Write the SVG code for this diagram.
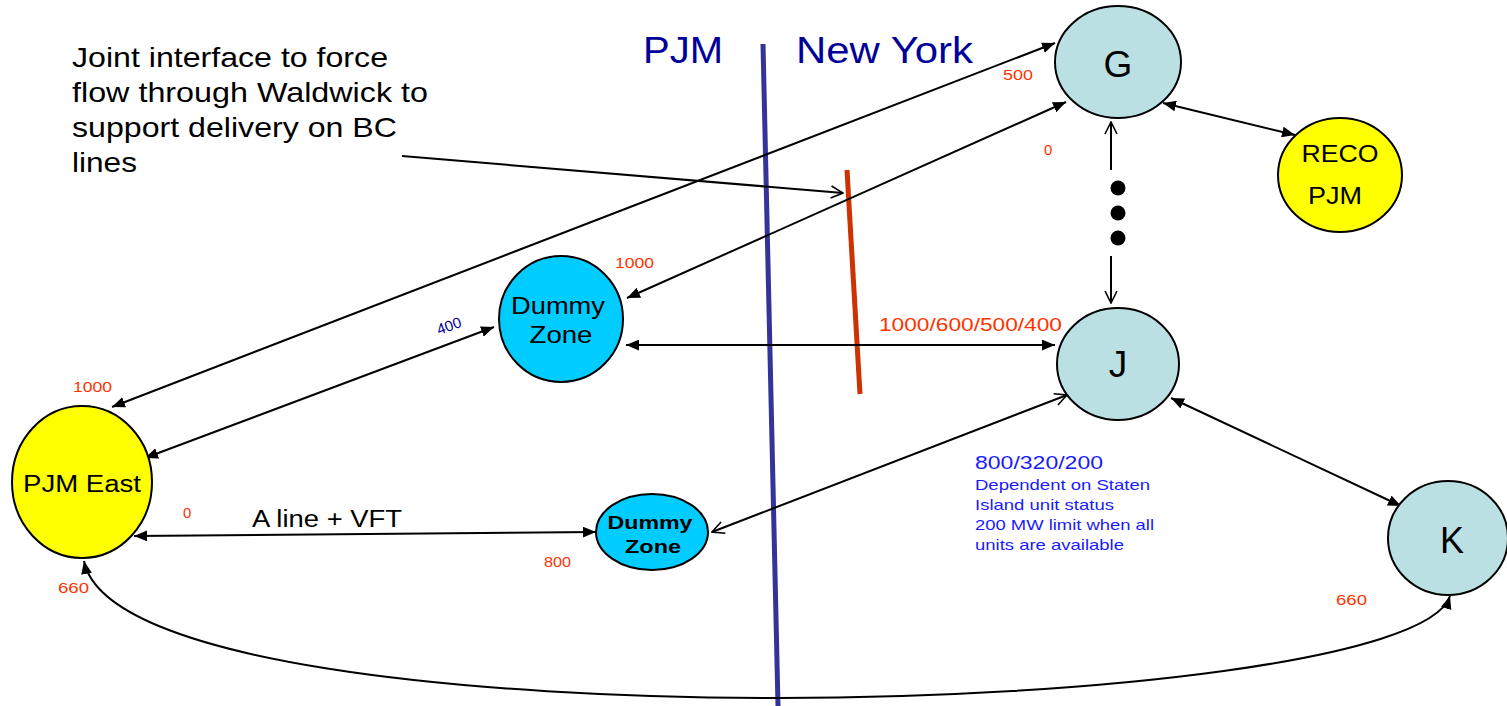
<svg xmlns="http://www.w3.org/2000/svg" width="1507" height="706" viewBox="0 0 1507 706">
<defs>
<style>
text{font-family:"Liberation Sans",Arial,sans-serif;}
.node{stroke:#000;stroke-width:2;}
.ny{fill:#BBE0E3;}
.yel{fill:#FFFF00;}
.dz{fill:#00CCFF;}
.conn{stroke:#000;stroke-width:2;fill:none;}
.lbl{fill:#FF3300;font-size:15px;}
.blue{fill:#1A1AFF;}
.nt{fill:#000;text-anchor:middle;}
</style>
<marker id="af" viewBox="0 0 12 10" refX="12" refY="5" markerWidth="13" markerHeight="11" markerUnits="userSpaceOnUse" orient="auto-start-reverse">
<path d="M0,0 L12,5 L0,10 z" fill="#000"/>
</marker>
<marker id="ao" viewBox="0 0 14 14" refX="13" refY="7" markerWidth="14" markerHeight="14" markerUnits="userSpaceOnUse" orient="auto-start-reverse">
<path d="M1,1 L13,7 L1,13" fill="none" stroke="#000" stroke-width="1.6"/>
</marker>
</defs>
<rect width="1507" height="706" fill="#fff"/>

<g id="divider">
<line x1="763" y1="44" x2="778" y2="706" stroke="#333399" stroke-width="5"/>
<text x="643" y="63" font-size="36" fill="#000099" textLength="80" lengthAdjust="spacingAndGlyphs">PJM</text>
<text x="796" y="63" font-size="36" fill="#000099" textLength="177" lengthAdjust="spacingAndGlyphs">New York</text>
</g>

<g id="joint-interface">
<line x1="847" y1="170" x2="860" y2="394" stroke="#CC3300" stroke-width="5"/>
</g>

<g id="note">
<text x="72" y="67" font-size="28" textLength="316" lengthAdjust="spacingAndGlyphs">Joint interface to force</text>
<text x="72" y="102" font-size="28" textLength="356" lengthAdjust="spacingAndGlyphs">flow through Waldwick to</text>
<text x="72" y="137" font-size="28" textLength="325" lengthAdjust="spacingAndGlyphs">support delivery on BC</text>
<text x="72" y="172" font-size="28" textLength="65" lengthAdjust="spacingAndGlyphs">lines</text>
</g>

<g id="connectors">
<line class="conn" x1="402" y1="156" x2="843" y2="193" marker-end="url(#ao)"/>
<line class="conn" x1="112" y1="407" x2="1055" y2="43" marker-start="url(#af)" marker-end="url(#af)"/>
<line class="conn" x1="145" y1="458" x2="494" y2="327" marker-start="url(#af)" marker-end="url(#af)"/>
<line class="conn" x1="1066" y1="102" x2="627" y2="298" marker-start="url(#af)" marker-end="url(#af)"/>
<line class="conn" x1="626" y1="345" x2="1055" y2="345" marker-start="url(#af)" marker-end="url(#af)"/>
<line class="conn" x1="1163" y1="103" x2="1295" y2="135" marker-start="url(#af)" marker-end="url(#af)"/>
<line class="conn" x1="1111" y1="170" x2="1111" y2="122" marker-end="url(#ao)"/>
<line class="conn" x1="1111" y1="256" x2="1111" y2="303" marker-end="url(#ao)"/>
<line class="conn" x1="1171" y1="398" x2="1401" y2="506" marker-start="url(#af)" marker-end="url(#af)"/>
<line class="conn" x1="712" y1="532" x2="1067" y2="395" marker-start="url(#ao)" marker-end="url(#ao)"/>
<line class="conn" x1="134" y1="536" x2="596" y2="532" marker-start="url(#af)" marker-end="url(#af)"/>
<path class="conn" d="M84,561 C105,665 480,698 779,698 C1090,698 1430,660 1450,596" marker-start="url(#af)" marker-end="url(#af)"/>
<circle cx="1118" cy="188" r="7.5" fill="#000"/>
<circle cx="1118" cy="213" r="7.5" fill="#000"/>
<circle cx="1118" cy="238" r="7.5" fill="#000"/>
</g>

<g id="labels">
<text class="lbl" x="1003" y="80" textLength="30" lengthAdjust="spacingAndGlyphs">500</text>
<text class="lbl" x="1044" y="155">0</text>
<text class="lbl" x="615" y="268" textLength="39" lengthAdjust="spacingAndGlyphs">1000</text>
<text x="449" y="331" font-size="15" fill="#000099" text-anchor="middle" transform="rotate(-20 449 326)">400</text>
<text x="879" y="331" font-size="19" fill="#FF3300" textLength="183" lengthAdjust="spacingAndGlyphs">1000/600/500/400</text>
<text class="lbl" x="73" y="392" textLength="39" lengthAdjust="spacingAndGlyphs">1000</text>
<text class="lbl" x="183" y="518">0</text>
<text x="252" y="527" font-size="23" fill="#000" textLength="150" lengthAdjust="spacingAndGlyphs">A line + VFT</text>
<text class="lbl" x="544" y="567" textLength="27" lengthAdjust="spacingAndGlyphs">800</text>
<text class="lbl" x="58" y="593" textLength="31" lengthAdjust="spacingAndGlyphs">660</text>
<text class="lbl" x="1336" y="605" textLength="31" lengthAdjust="spacingAndGlyphs">660</text>
<text class="blue" x="975" y="469" font-size="19" textLength="128" lengthAdjust="spacingAndGlyphs">800/320/200</text>
<text class="blue" x="975" y="490" font-size="15" textLength="175" lengthAdjust="spacingAndGlyphs">Dependent on Staten</text>
<text class="blue" x="975" y="510" font-size="15" textLength="139" lengthAdjust="spacingAndGlyphs">Island unit status</text>
<text class="blue" x="975" y="530" font-size="15" textLength="179" lengthAdjust="spacingAndGlyphs">200 MW limit when all</text>
<text class="blue" x="975" y="550" font-size="15" textLength="149" lengthAdjust="spacingAndGlyphs">units are available</text>
</g>

<g id="node-G">
<ellipse class="node ny" cx="1118" cy="62" rx="63" ry="56"/>
<text class="nt" x="1118" y="77" font-size="37">G</text>
</g>
<g id="node-RECO">
<ellipse class="node yel" cx="1340" cy="175" rx="62" ry="57"/>
<text class="nt" x="1340" y="162" font-size="24" textLength="77" lengthAdjust="spacingAndGlyphs">RECO</text>
<text class="nt" x="1335" y="204" font-size="24" textLength="54" lengthAdjust="spacingAndGlyphs">PJM</text>
</g>
<g id="node-J">
<ellipse class="node ny" cx="1118" cy="364" rx="61" ry="56"/>
<text class="nt" x="1118" y="377" font-size="37">J</text>
</g>
<g id="node-K">
<ellipse class="node ny" cx="1448" cy="538" rx="60" ry="57"/>
<text class="nt" x="1452" y="553" font-size="36">K</text>
</g>
<g id="node-dummy-upper">
<ellipse class="node dz" cx="561" cy="319" rx="62" ry="63"/>
<text class="nt" x="558" y="314" font-size="23" textLength="94" lengthAdjust="spacingAndGlyphs">Dummy</text>
<text class="nt" x="561" y="343" font-size="23" textLength="63" lengthAdjust="spacingAndGlyphs">Zone</text>
</g>
<g id="node-dummy-lower">
<ellipse class="node dz" cx="652" cy="532" rx="56" ry="38"/>
<text class="nt" x="650" y="529" font-size="18" font-weight="bold" textLength="85" lengthAdjust="spacingAndGlyphs">Dummy</text>
<text class="nt" x="653" y="553" font-size="18" font-weight="bold" textLength="56" lengthAdjust="spacingAndGlyphs">Zone</text>
</g>
<g id="node-PJM-East">
<ellipse class="node yel" cx="82" cy="482" rx="70" ry="76"/>
<text class="nt" x="82" y="492" font-size="23" textLength="118" lengthAdjust="spacingAndGlyphs">PJM East</text>
</g>
</svg>
